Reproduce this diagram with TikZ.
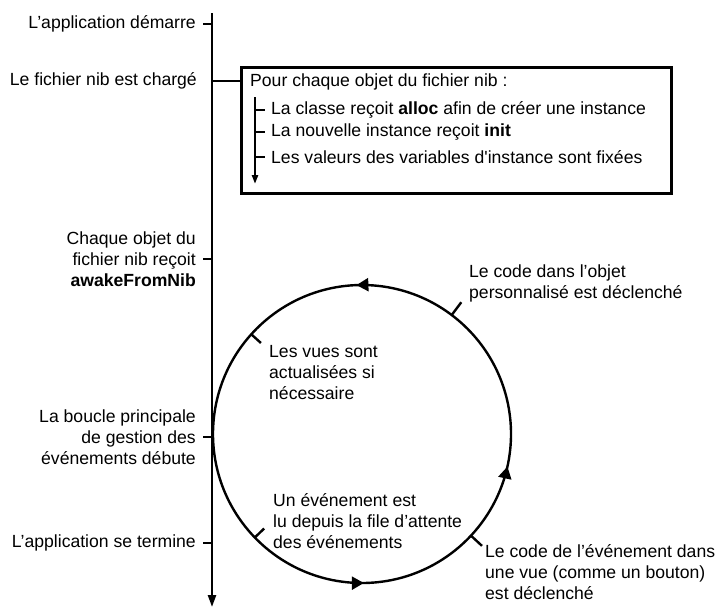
\documentclass[tikz,border=0pt]{standalone}
\usepackage{fontspec}
\newfontfamily\helv{Liberation Sans}
\usetikzlibrary{arrows.meta,decorations.markings}

\begin{document}
\begin{tikzpicture}[x=1pt,y=-1pt,
	every node/.style={font=\helv\fontsize{17.6}{21}\selectfont,inner sep=0pt},
	lbl/.style={anchor=east,align=right},
	txt/.style={anchor=west,align=left},
	thinline/.style={line width=2.4pt},
	looptip/.style={decoration={markings,
		mark=at position 0.256 with {\arrow{Triangle[length=12pt,width=13pt]}},
		mark=at position 0.752 with {\arrow{Triangle[length=12pt,width=13pt]}},
		mark=at position 0.965 with {\arrow{Triangle[length=12pt,width=13pt]}}},
		postaction={decorate}}]
	\def\R{149}
	\useasboundingbox (0,0) rectangle (719,608);

	% time line
	\coordinate (top) at (212,13);
	\coordinate (bot) at (212,607);
	\draw[thinline,-{Triangle[length=12pt,width=8pt]}] (top) -- (bot);
	\foreach \y/\txt in {24/{L’application démarre},
		259/{Chaque objet du\\fichier nib reçoit\\\textbf{awakeFromNib}},
		437/{La boucle principale\\de gestion des\\événements débute},
		543/{L’application se termine}}
		\draw[thinline] (212,\y) -- ++(-9,0) node[lbl,xshift=-6pt] (l\y) {\txt};

	% nib box
	\coordinate (boxnw) at (241,67);
	\coordinate (boxse) at (671,193);
	\coordinate (c1) at (212,81);
	\draw[line width=3pt] (boxnw) rectangle (boxse);
	\draw[thinline] (c1) -- (c1 -| boxnw);
	\node[lbl] (nib) at (197,81) {Le fichier nib est chargé};
	\node[txt] (pour) at (250,82) {Pour chaque objet du fichier nib :};
	\draw[thinline,-{Triangle[length=9pt,width=6pt]}] (255,97) -- (255,184);
	\foreach \y/\txt in {110/{La classe reçoit \textbf{alloc} afin de créer une instance},
		132/{La nouvelle instance reçoit \textbf{init}},
		157/{Les valeurs des variables d'instance sont fixées}}
		\draw[thinline] (255,\y) -- ++(10,0) node[txt,xshift=5pt] (b\y) {\txt};

	% event loop
	\coordinate (cc) at (362,434);
	\draw[thinline,looptip] ([shift={(0:\R)}]cc) arc[start angle=0,end angle=-360,radius=\R];
	\foreach \a/\r in {-138/136,136/136,-53/165,43/164}
		\draw[thinline] ([shift={(\a:\R)}]cc) -- ([shift={(\a:\r)}]cc);
	\node[txt] (vues) at (269,373) {Les vues sont\\actualisées si\\nécessaire};
	\node[txt] (lu) at (273,521) {Un événement est\\lu depuis la file d’attente\\des événements};
	\node[txt] (objet) at (469,283) {Le code dans l’objet\\personnalisé est déclenché};
	\node[txt] (vue) at (485,572) {Le code de l’événement dans\\une vue (comme un bouton)\\est déclenché};
\end{tikzpicture}
\end{document}
